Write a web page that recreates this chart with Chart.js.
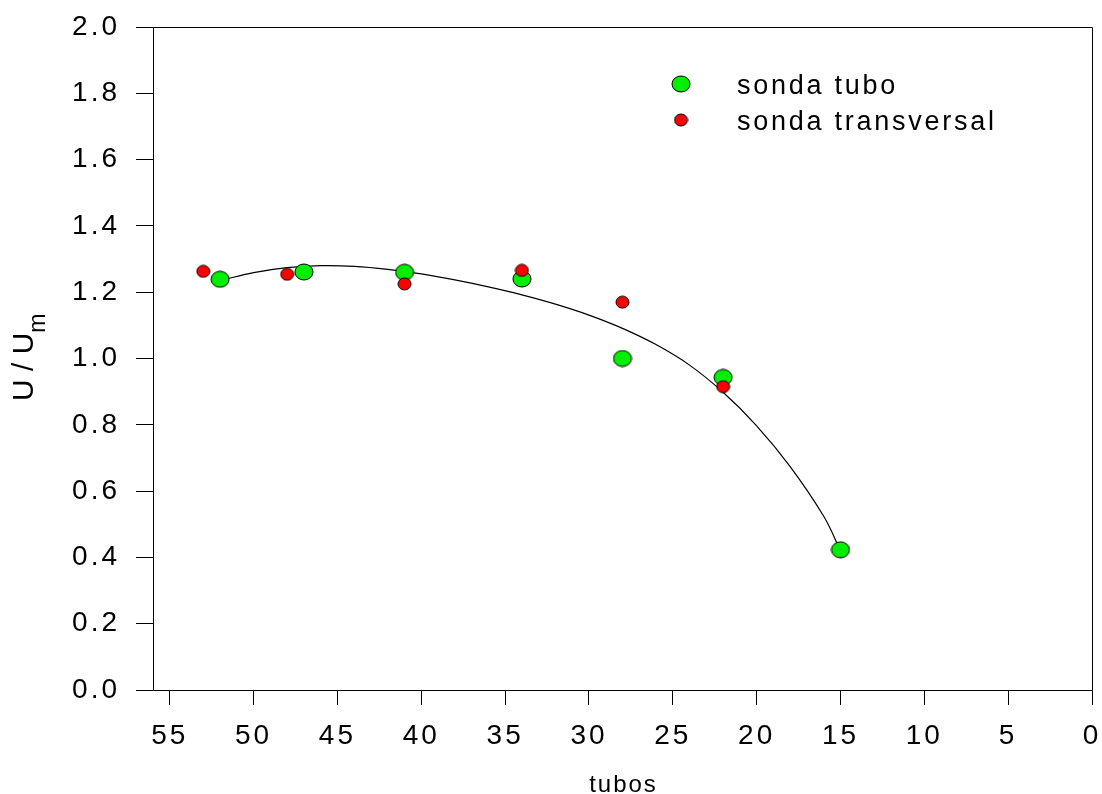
<!DOCTYPE html>
<html>
<head>
<meta charset="utf-8">
<title>U / Um vs tubos</title>
<script src="https://cdn.jsdelivr.net/npm/chart.js@4/dist/chart.umd.min.js"></script>
<style>
  html, body { margin: 0; padding: 0; background: #ffffff; }
  #wrap { width: 1102px; height: 794px; }
</style>
</head>
<body>
<div id="wrap"><canvas id="chart" width="1102" height="794"></canvas></div>
<script>
// Measured velocity ratio U/Um along the tube bank
const tuboX = [52, 47, 41, 34, 28, 22, 15];
const tuboU = [1.239, 1.261, 1.260, 1.240, 1.000, 0.943, 0.423];

const transX = [53, 48, 41, 34, 28, 22];
const transU = [1.263, 1.254, 1.225, 1.266, 1.170, 0.915];

// Fitted trend curve through the tube-probe readings
const fitX = [52, 50, 48, 46, 44, 42, 40, 38, 36, 34, 32, 30, 28, 26, 24, 22, 20, 18, 16, 15];
const fitU = [1.235, 1.259, 1.274, 1.280, 1.278, 1.269, 1.255, 1.237, 1.216, 1.192,
              1.164, 1.131, 1.091, 1.042, 0.980, 0.898, 0.797, 0.674, 0.524, 0.420];

const xTickValues = [0, 5, 10, 15, 20, 25, 30, 35, 40, 45, 50, 55];
const yTickValues = [0, 0.2, 0.4, 0.6, 0.8, 1.0, 1.2, 1.4, 1.6, 1.8, 2.0];

const seriesNames = ['sonda tubo', 'sonda transversal'];
const xTitle = 'tubos';

const FONT = "'Liberation Sans', Arial, Helvetica, sans-serif";

function toPoints(xs, ys) {
  return xs.map((x, i) => ({ x: x, y: ys[i] }));
}

// Small ellipse markers with a thin black outline
function ellipseMarker(w, h, fill) {
  const c = document.createElement('canvas');
  c.width = w + 2;
  c.height = h + 2;
  const g = c.getContext('2d');
  g.beginPath();
  g.ellipse(c.width / 2, c.height / 2, w / 2, h / 2, 0, 0, Math.PI * 2);
  g.fillStyle = fill;
  g.fill();
  g.lineWidth = 1;
  g.strokeStyle = '#000000';
  g.stroke();
  return c;
}

const greenMarker = ellipseMarker(18, 16, '#00ee00');
const redMarker = ellipseMarker(13, 12, '#ff0000');

const spacingPlugin = {
  id: 'spacing',
  beforeUpdate(chart) { chart.ctx.letterSpacing = '3px'; },
  beforeDraw(chart) { chart.ctx.letterSpacing = '3px'; }
};

const framePlugin = {
  id: 'frame',
  beforeDatasetsDraw(chart) {
    const a = chart.chartArea;
    const ctx = chart.ctx;
    ctx.save();
    ctx.strokeStyle = '#000000';
    ctx.lineWidth = 1;
    ctx.beginPath();
    ctx.moveTo(Math.round(a.left) + 0.5, Math.round(a.top) + 0.5);
    ctx.lineTo(Math.round(a.right) + 0.5, Math.round(a.top) + 0.5);
    ctx.lineTo(Math.round(a.right) + 0.5, Math.round(a.bottom) + 0.5);
    ctx.stroke();
    ctx.restore();
  }
};

const labelsPlugin = {
  id: 'labels',
  afterDraw(chart) {
    const ctx = chart.ctx;
    const a = chart.chartArea;

    // legend
    ctx.save();
    ctx.letterSpacing = '2.75px';
    ctx.fillStyle = '#000000';
    ctx.font = '27px ' + FONT;
    ctx.textAlign = 'left';
    ctx.textBaseline = 'alphabetic';
    const entries = [
      { marker: greenMarker, y: 84, text: seriesNames[0] },
      { marker: redMarker, y: 120, text: seriesNames[1] }
    ];
    entries.forEach(e => {
      ctx.drawImage(e.marker, 681 - e.marker.width / 2, e.y - e.marker.height / 2);
      ctx.fillText(e.text, 737, e.y + 10);
    });
    ctx.restore();

    // x axis title
    ctx.save();
    ctx.letterSpacing = '2px';
    ctx.fillStyle = '#000000';
    ctx.font = '24px ' + FONT;
    ctx.textAlign = 'center';
    ctx.textBaseline = 'alphabetic';
    ctx.fillText(xTitle, (a.left + a.right) / 2 + 1, 792);
    ctx.restore();

    // y axis title with subscript m
    ctx.save();
    ctx.letterSpacing = '0px';
    ctx.fillStyle = '#000000';
    ctx.translate(33, 401);
    ctx.rotate(-Math.PI / 2);
    ctx.textAlign = 'left';
    ctx.textBaseline = 'alphabetic';
    ctx.font = '30px ' + FONT;
    const main = 'U / U';
    ctx.fillText(main, 0, 0);
    const w = ctx.measureText(main).width;
    ctx.font = '23px ' + FONT;
    ctx.fillText('m', w, 12);
    ctx.restore();
  }
};

new Chart(document.getElementById('chart'), {
  type: 'scatter',
  data: {
    datasets: [
      {
        label: seriesNames[1],
        data: toPoints(transX, transU),
        pointStyle: redMarker,
        pointRadius: 7,
        showLine: false,
        order: 0
      },
      {
        label: seriesNames[0],
        data: toPoints(tuboX, tuboU),
        pointStyle: greenMarker,
        pointRadius: 9,
        showLine: false,
        order: 1
      },
      {
        label: 'ajuste',
        data: toPoints(fitX, fitU),
        showLine: true,
        borderColor: '#000000',
        borderWidth: 1.2,
        pointRadius: 0,
        fill: false,
        tension: 0.4,
        order: 2
      }
    ]
  },
  options: {
    responsive: false,
    animation: false,
    devicePixelRatio: 1,
    layout: { padding: { top: 27, right: 8, left: 0, bottom: 0 } },
    plugins: {
      legend: { display: false },
      tooltip: { enabled: false }
    },
    scales: {
      x: {
        type: 'linear',
        reverse: true,
        min: 0,
        max: 56,
        afterBuildTicks(scale) { scale.ticks = xTickValues.map(v => ({ value: v })); },
        afterFit(scale) {
          scale.height = 104;
          scale.paddingLeft = 0;
          scale.paddingRight = 0;
        },
        grid: {
          drawOnChartArea: false,
          drawTicks: true,
          tickLength: 15,
          tickWidth: 1,
          tickColor: '#000000'
        },
        border: { display: true, color: '#000000', width: 1 },
        ticks: {
          color: '#000000',
          font: { family: FONT, size: 28 },
          padding: 14,
          maxRotation: 0,
          autoSkip: false,
          callback: v => String(v)
        },
        title: { display: false }
      },
      y: {
        type: 'linear',
        min: 0,
        max: 2,
        afterBuildTicks(scale) { scale.ticks = yTickValues.map(v => ({ value: v })); },
        afterFit(scale) {
          scale.width = 153;
          scale.paddingTop = 0;
          scale.paddingBottom = 0;
        },
        grid: {
          drawOnChartArea: false,
          drawTicks: true,
          tickLength: 17,
          tickWidth: 1,
          tickColor: '#000000'
        },
        border: { display: true, color: '#000000', width: 1 },
        ticks: {
          color: '#000000',
          font: { family: FONT, size: 28 },
          padding: 16,
          autoSkip: false,
          callback: v => Number(v).toFixed(1)
        },
        title: { display: false }
      }
    }
  },
  plugins: [spacingPlugin, framePlugin, labelsPlugin]
});
</script>
</body>
</html>
